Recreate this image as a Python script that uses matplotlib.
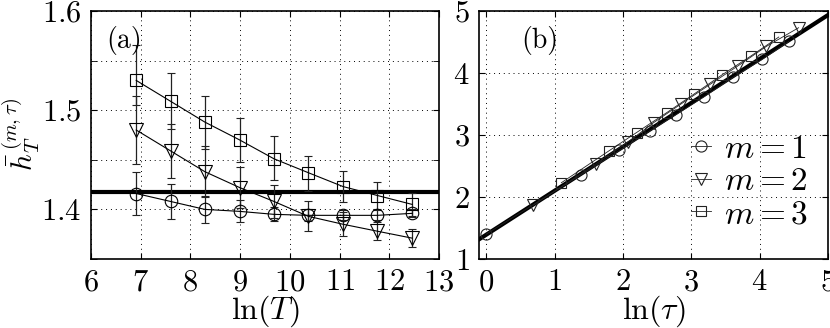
import matplotlib
matplotlib.use("Agg")
import matplotlib.pyplot as plt
from matplotlib.ticker import MultipleLocator

plt.rcParams["font.family"] = "serif"
plt.rcParams["font.serif"] = ["cmr10", "DejaVu Serif"]
plt.rcParams["mathtext.fontset"] = "cm"
plt.rcParams["axes.formatter.use_mathtext"] = True

# ---- panel (a) data: mean entropy rate vs ln(T) ----
lnT = [6.91, 7.60, 8.29, 8.99, 9.68, 10.37, 11.07, 11.76, 12.46]

h_m1 = [1.416, 1.408, 1.400, 1.398, 1.395, 1.394, 1.394, 1.394, 1.396]
err_m1 = [0.022, 0.018, 0.014, 0.011, 0.007, 0.006, 0.005, 0.005, 0.004]

h_m2 = [1.480, 1.459, 1.438, 1.422, 1.408, 1.393, 1.385, 1.378, 1.371]
err_m2 = [0.034, 0.027, 0.026, 0.021, 0.017, 0.015, 0.012, 0.009, 0.009]

h_m3 = [1.530, 1.509, 1.488, 1.470, 1.451, 1.437, 1.423, 1.414, 1.405]
err_m3_lo = [0.025, 0.028, 0.027, 0.022, 0.021, 0.018, 0.016, 0.014, 0.012]
err_m3_hi = [0.036, 0.028, 0.026, 0.022, 0.023, 0.017, 0.016, 0.014, 0.012]

h_ref = 1.418

# ---- panel (b) data: vs ln(tau) ----
lntau_m1 = [0.00, 1.39, 1.95, 2.40, 2.78, 3.18, 3.61, 4.04, 4.43]
hb_m1 = [1.40, 2.36, 2.75, 3.07, 3.33, 3.61, 3.93, 4.22, 4.51]

lntau_m2 = [0.69, 1.60, 2.08, 2.45, 2.85, 3.28, 3.69, 4.10, 4.57]
hb_m2 = [1.87, 2.53, 2.89, 3.20, 3.50, 3.82, 4.12, 4.43, 4.73]

lntau_m3 = [1.10, 1.79, 2.20, 2.64, 3.04, 3.45, 3.88, 4.28]
hb_m3 = [2.23, 2.74, 3.04, 3.36, 3.66, 3.97, 4.28, 4.58]

fit_x = [-0.1, 5.0]
fit_y = [1.32, 4.935]

fig = plt.figure(figsize=(8.3, 3.28), dpi=100)
ax1 = fig.add_axes([0.1096, 0.2104, 0.4194, 0.7561])
ax2 = fig.add_axes([0.5775, 0.2104, 0.4201, 0.7561])

# panel (a)
ax1.axhline(h_ref, color="black", lw=3.0, zorder=1)
ax1.errorbar(lnT, h_m1, yerr=err_m1, fmt="-o", color="black", lw=0.8,
             ms=9, mfc="none", mew=0.8, capsize=3, elinewidth=0.9,
             ecolor="#222222", zorder=3)
ax1.errorbar(lnT, h_m2, yerr=err_m2, fmt="-v", color="black", lw=0.8,
             ms=10, mfc="none", mew=0.8, capsize=3, elinewidth=0.9,
             ecolor="#222222", zorder=3)
ax1.errorbar(lnT, h_m3, yerr=[err_m3_lo, err_m3_hi], fmt="-s", color="black",
             lw=0.8, ms=9, mfc="none", mew=0.8, capsize=3, elinewidth=0.9,
             ecolor="#222222", zorder=3)
ax1.set_xlim(6, 13)
ax1.set_ylim(1.35, 1.6)
ax1.yaxis.set_major_locator(MultipleLocator(0.1))
ax1.yaxis.set_minor_locator(MultipleLocator(0.05))
ax1.xaxis.set_major_locator(MultipleLocator(1))
ax1.set_xlabel(r"$\ln(T)$", fontsize=23, labelpad=-2)
ax1.set_ylabel(r"$\bar{h}_T^{\,(m,\tau)}$", fontsize=21)
ax1.yaxis.set_label_coords(-0.14, 0.5)
ax1.text(0.045, 0.85, "(a)", transform=ax1.transAxes, fontsize=20)

# panel (b)
ax2.plot(lntau_m1, hb_m1, "-o", color="#222222", lw=0.6, ms=8, mfc="none",
         mew=0.8, label=r"$m=1$", zorder=3)
ax2.plot(lntau_m2, hb_m2, "-v", color="#222222", lw=0.6, ms=8, mfc="none",
         mew=0.8, label=r"$m=2$", zorder=3)
ax2.plot(lntau_m3, hb_m3, "-s", color="#222222", lw=0.6, ms=7, mfc="none",
         mew=0.8, label=r"$m=3$", zorder=3)
ax2.plot(fit_x, fit_y, color="black", lw=3.0, zorder=2)
ax2.set_xlim(-0.1, 5)
ax2.set_ylim(1, 5)
ax2.xaxis.set_major_locator(MultipleLocator(1))
ax2.yaxis.set_major_locator(MultipleLocator(1))
ax2.set_xlabel(r"$\ln(\tau)$", fontsize=23, labelpad=-2)
ax2.text(0.12, 0.85, "(b)", transform=ax2.transAxes, fontsize=20)
ax2.legend(loc="lower right", bbox_to_anchor=(1.0, 0.04), frameon=False,
           fontsize=24, handlelength=0.6, handletextpad=0.4,
           labelspacing=0.1, borderaxespad=0.2)

for ax in (ax1, ax2):
    ax.grid(True, which="both", linestyle=(0, (1, 4)), color="black", lw=0.7)
    ax.tick_params(which="both", direction="in", top=True, right=True,
                   labelsize=22, length=4, pad=7)
    ax.tick_params(which="minor", length=4)
    for s in ax.spines.values():
        s.set_linewidth(1.2)
    ax.set_axisbelow(True)

fig.savefig("out.png", dpi=100)
